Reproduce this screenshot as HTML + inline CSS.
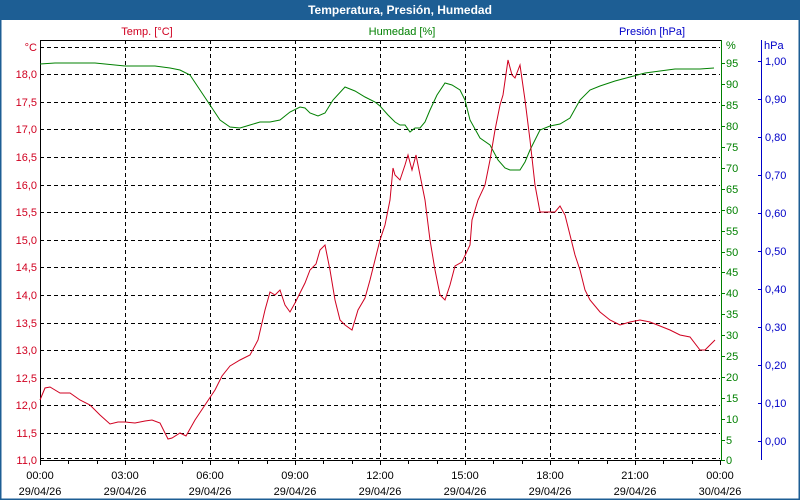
<!DOCTYPE html>
<html><head><meta charset="utf-8"><style>
html,body{margin:0;padding:0;background:#fff}
svg{display:block;font-family:"Liberation Sans",sans-serif;font-size:11px}
</style></head><body>
<svg width="800" height="500" viewBox="0 0 800 500" xmlns="http://www.w3.org/2000/svg">
<rect x="0" y="0" width="800" height="500" fill="#fff"/>
<rect x="0.5" y="0.5" width="799" height="499" fill="none" stroke="#1d5e94" stroke-width="2"/>
<rect x="0" y="0" width="800" height="20" fill="#1d5e94"/>
<text x="400" y="14" text-anchor="middle" fill="#fff" font-weight="bold" font-size="12">Temperatura, Presión, Humedad</text>
<text x="147" y="35" text-anchor="middle" fill="#d00020">Temp. [°C]</text>
<text x="402" y="35" text-anchor="middle" fill="#008000">Humedad [%]</text>
<text x="652" y="35" text-anchor="middle" fill="#0000c8">Presión [hPa]</text>
<g stroke="#000" stroke-dasharray="4,3" stroke-width="1">
<line x1="40" y1="47.5" x2="720" y2="47.5"/><line x1="40" y1="74.5" x2="720" y2="74.5"/><line x1="40" y1="102.5" x2="720" y2="102.5"/><line x1="40" y1="129.5" x2="720" y2="129.5"/><line x1="40" y1="157.5" x2="720" y2="157.5"/><line x1="40" y1="185.5" x2="720" y2="185.5"/><line x1="40" y1="212.5" x2="720" y2="212.5"/><line x1="40" y1="240.5" x2="720" y2="240.5"/><line x1="40" y1="267.5" x2="720" y2="267.5"/><line x1="40" y1="295.5" x2="720" y2="295.5"/><line x1="40" y1="323.5" x2="720" y2="323.5"/><line x1="40" y1="350.5" x2="720" y2="350.5"/><line x1="40" y1="378.5" x2="720" y2="378.5"/><line x1="40" y1="405.5" x2="720" y2="405.5"/><line x1="40" y1="433.5" x2="720" y2="433.5"/><line x1="40" y1="458.5" x2="720" y2="458.5"/>
<line x1="125.5" y1="40" x2="125.5" y2="460"/><line x1="210.5" y1="40" x2="210.5" y2="460"/><line x1="295.5" y1="40" x2="295.5" y2="460"/><line x1="380.5" y1="40" x2="380.5" y2="460"/><line x1="465.5" y1="40" x2="465.5" y2="460"/><line x1="550.5" y1="40" x2="550.5" y2="460"/><line x1="635.5" y1="40" x2="635.5" y2="460"/>
</g>
<g stroke="#000" stroke-width="1">
<line x1="40" y1="40.5" x2="721" y2="40.5"/><line x1="40.5" y1="40" x2="40.5" y2="460"/><line x1="40" y1="460.5" x2="721" y2="460.5"/>
<path d="M68.5 460v4M97.5 460v4M125.5 460v5M153.5 460v4M182.5 460v4M210.5 460v5M238.5 460v4M267.5 460v4M295.5 460v5M323.5 460v4M352.5 460v4M380.5 460v5M408.5 460v4M437.5 460v4M465.5 460v5M493.5 460v4M522.5 460v4M550.5 460v5M578.5 460v4M607.5 460v4M635.5 460v5M663.5 460v4M692.5 460v4M720.5 460v5M40.5 460v5"/>
</g>
<line x1="721.5" y1="40" x2="721.5" y2="461" stroke="#008000"/>
<g stroke="#008000"><path d="M721 63.5h4M721 84.5h4M721 105.5h4M721 126.5h4M721 147.5h4M721 168.5h4M721 189.5h4M721 210.5h4M721 231.5h4M721 252.5h4M721 272.5h4M721 293.5h4M721 314.5h4M721 335.5h4M721 356.5h4M721 377.5h4M721 398.5h4M721 419.5h4M721 440.5h4M721 460.5h4"/></g>
<line x1="761.5" y1="40" x2="761.5" y2="460" stroke="#0000c8"/>
<g stroke="#0000c8"><path d="M758 61.5h4M758 99.5h4M758 137.5h4M758 175.5h4M758 213.5h4M758 251.5h4M758 289.5h4M758 327.5h4M758 365.5h4M758 403.5h4M758 441.5h4"/></g>
<g fill="#d00020" text-anchor="end">
<text x="37" y="51">°C</text><text x="37" y="78">18,0</text><text x="37" y="106">17,5</text><text x="37" y="133">17,0</text><text x="37" y="161">16,5</text><text x="37" y="189">16,0</text><text x="37" y="216">15,5</text><text x="37" y="244">15,0</text><text x="37" y="271">14,5</text><text x="37" y="299">14,0</text><text x="37" y="327">13,5</text><text x="37" y="354">13,0</text><text x="37" y="382">12,5</text><text x="37" y="409">12,0</text><text x="37" y="437">11,5</text><text x="37" y="464">11,0</text>
</g>
<g fill="#008000">
<text x="726" y="49">%</text><text x="726" y="67">95</text><text x="726" y="88">90</text><text x="726" y="109">85</text><text x="726" y="130">80</text><text x="726" y="151">75</text><text x="726" y="172">70</text><text x="726" y="193">65</text><text x="726" y="214">60</text><text x="726" y="235">55</text><text x="726" y="256">50</text><text x="726" y="276">45</text><text x="726" y="297">40</text><text x="726" y="318">35</text><text x="726" y="339">30</text><text x="726" y="360">25</text><text x="726" y="381">20</text><text x="726" y="402">15</text><text x="726" y="423">10</text><text x="726" y="444">5</text><text x="726" y="464">0</text>
</g>
<g fill="#0000c8">
<text x="764" y="49">hPa</text><text x="765" y="65">1,00</text><text x="765" y="103">0,90</text><text x="765" y="141">0,80</text><text x="765" y="179">0,70</text><text x="765" y="217">0,60</text><text x="765" y="255">0,50</text><text x="765" y="293">0,40</text><text x="765" y="331">0,30</text><text x="765" y="369">0,20</text><text x="765" y="407">0,10</text><text x="765" y="445">0,00</text>
</g>
<g fill="#000" text-anchor="middle">
<text x="40" y="479">00:00</text><text x="125" y="479">03:00</text><text x="210" y="479">06:00</text><text x="295" y="479">09:00</text><text x="380" y="479">12:00</text><text x="465" y="479">15:00</text><text x="550" y="479">18:00</text><text x="635" y="479">21:00</text><text x="720" y="479">00:00</text>
<text x="40" y="495">29/04/26</text><text x="125" y="495">29/04/26</text><text x="210" y="495">29/04/26</text><text x="295" y="495">29/04/26</text><text x="380" y="495">29/04/26</text><text x="465" y="495">29/04/26</text><text x="550" y="495">29/04/26</text><text x="635" y="495">29/04/26</text><text x="720" y="495">30/04/26</text>
</g>
<polyline fill="none" stroke="#008000" stroke-width="1" points="40,64 55,63 95,63 125,66 155,66 170,68 180,70 190,75 200,90 210,105 220,120 230,127 240,128 250,125 260,122 270,122 280,120 290,112 300,107 305,108 310,113 318,116 325,113 333,100 345,87 355,91 365,97 375,102 380,106 388,115 395,122 400,125 405,125 410,132 415,128 420,128 425,122 430,110 437,95 445,83 452,85 460,90 465,100 470,120 480,138 490,145 498,160 505,168 510,170 520,170 525,162 530,150 540,130 550,126 560,124 570,118 580,100 590,90 600,86 615,81 630,77 645,73 660,71 675,69 700,69 714,68"/>
<polyline fill="none" stroke="#d00020" stroke-width="1" points="40,400 45,388 50,387 60,393 70,393 80,400 90,405 100,415 110,424 118,422 125,422 135,423 145,421 152,420 160,423 168,439 172,438 180,433 186,436 195,420 205,405 215,390 222,376 230,366 240,360 250,355 258,340 265,310 270,292 275,295 280,290 285,305 290,312 295,303 300,293 305,283 310,270 316,264 320,250 325,245 330,270 335,300 340,320 345,325 352,330 358,310 365,298 370,280 375,260 380,240 385,225 390,200 393,168 395,175 400,180 405,165 408,155 412,170 416,155 420,175 425,200 430,240 435,270 440,295 445,300 450,285 455,266 462,262 470,245 472,220 478,200 485,185 490,160 495,130 500,105 503,95 508,60 512,75 515,78 520,65 525,100 530,140 535,185 540,212 550,212 555,212 560,206 565,215 570,235 575,255 580,270 585,290 590,300 600,312 610,320 620,325 630,322 640,320 650,322 660,326 670,330 680,335 690,337 700,350 705,350 710,345 715,340"/>
</svg>
</body></html>
